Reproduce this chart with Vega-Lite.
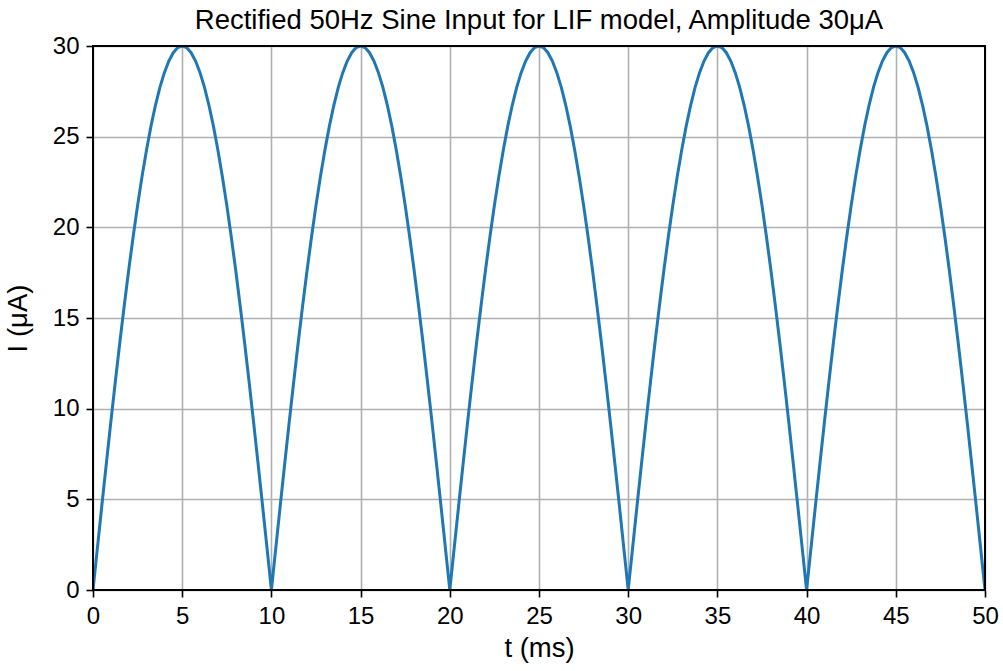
{
  "$schema": "https://vega.github.io/schema/vega-lite/v6.json",
  "width": 892,
  "height": 544,
  "autosize": "none",
  "padding": {"left": 93, "top": 46, "right": 18, "bottom": 81},
  "background": "white",
  "title": {"text": "Rectified 50Hz Sine Input for LIF model, Amplitude 30μA", "font": "Liberation Sans", "fontSize": 27.5, "fontWeight": "normal", "color": "black", "offset": 0},
  "config": {
    "view": {"stroke": null},
    "axis": {
      "labelFont": "Liberation Sans", "labelFontSize": 24, "labelColor": "black",
      "titleFont": "Liberation Sans", "titleFontSize": 27.5, "titleFontWeight": "normal", "titleColor": "black",
      "tickColor": "black", "tickSize": 7, "tickWidth": 1.6, "domain": false,
      "gridColor": "#b0b0b0", "gridWidth": 1.6, "gridOpacity": 1
    }
  },
  "data": {"values": [
    {"t":0,"I":0},{"t":0.25,"I":2.35},{"t":0.5,"I":4.69},{"t":0.75,"I":7},{"t":1,"I":9.27},{"t":1.25,"I":11.48},{"t":1.5,"I":13.62},{"t":1.75,"I":15.67},{"t":2,"I":17.63},{"t":2.25,"I":19.48},{"t":2.5,"I":21.21},{"t":2.75,"I":22.81},{"t":3,"I":24.27},{"t":3.25,"I":25.58},{"t":3.5,"I":26.73},{"t":3.75,"I":27.72},{"t":4,"I":28.53},{"t":4.25,"I":29.17},{"t":4.5,"I":29.63},{"t":4.75,"I":29.91},{"t":5,"I":30},{"t":5.25,"I":29.91},{"t":5.5,"I":29.63},{"t":5.75,"I":29.17},{"t":6,"I":28.53},{"t":6.25,"I":27.72},{"t":6.5,"I":26.73},{"t":6.75,"I":25.58},{"t":7,"I":24.27},{"t":7.25,"I":22.81},{"t":7.5,"I":21.21},{"t":7.75,"I":19.48},{"t":8,"I":17.63},{"t":8.25,"I":15.67},{"t":8.5,"I":13.62},{"t":8.75,"I":11.48},{"t":9,"I":9.27},{"t":9.25,"I":7},{"t":9.5,"I":4.69},{"t":9.75,"I":2.35},
    {"t":10,"I":0},{"t":10.25,"I":2.35},{"t":10.5,"I":4.69},{"t":10.75,"I":7},{"t":11,"I":9.27},{"t":11.25,"I":11.48},{"t":11.5,"I":13.62},{"t":11.75,"I":15.67},{"t":12,"I":17.63},{"t":12.25,"I":19.48},{"t":12.5,"I":21.21},{"t":12.75,"I":22.81},{"t":13,"I":24.27},{"t":13.25,"I":25.58},{"t":13.5,"I":26.73},{"t":13.75,"I":27.72},{"t":14,"I":28.53},{"t":14.25,"I":29.17},{"t":14.5,"I":29.63},{"t":14.75,"I":29.91},{"t":15,"I":30},{"t":15.25,"I":29.91},{"t":15.5,"I":29.63},{"t":15.75,"I":29.17},{"t":16,"I":28.53},{"t":16.25,"I":27.72},{"t":16.5,"I":26.73},{"t":16.75,"I":25.58},{"t":17,"I":24.27},{"t":17.25,"I":22.81},{"t":17.5,"I":21.21},{"t":17.75,"I":19.48},{"t":18,"I":17.63},{"t":18.25,"I":15.67},{"t":18.5,"I":13.62},{"t":18.75,"I":11.48},{"t":19,"I":9.27},{"t":19.25,"I":7},{"t":19.5,"I":4.69},{"t":19.75,"I":2.35},
    {"t":20,"I":0},{"t":20.25,"I":2.35},{"t":20.5,"I":4.69},{"t":20.75,"I":7},{"t":21,"I":9.27},{"t":21.25,"I":11.48},{"t":21.5,"I":13.62},{"t":21.75,"I":15.67},{"t":22,"I":17.63},{"t":22.25,"I":19.48},{"t":22.5,"I":21.21},{"t":22.75,"I":22.81},{"t":23,"I":24.27},{"t":23.25,"I":25.58},{"t":23.5,"I":26.73},{"t":23.75,"I":27.72},{"t":24,"I":28.53},{"t":24.25,"I":29.17},{"t":24.5,"I":29.63},{"t":24.75,"I":29.91},{"t":25,"I":30},{"t":25.25,"I":29.91},{"t":25.5,"I":29.63},{"t":25.75,"I":29.17},{"t":26,"I":28.53},{"t":26.25,"I":27.72},{"t":26.5,"I":26.73},{"t":26.75,"I":25.58},{"t":27,"I":24.27},{"t":27.25,"I":22.81},{"t":27.5,"I":21.21},{"t":27.75,"I":19.48},{"t":28,"I":17.63},{"t":28.25,"I":15.67},{"t":28.5,"I":13.62},{"t":28.75,"I":11.48},{"t":29,"I":9.27},{"t":29.25,"I":7},{"t":29.5,"I":4.69},{"t":29.75,"I":2.35},
    {"t":30,"I":0},{"t":30.25,"I":2.35},{"t":30.5,"I":4.69},{"t":30.75,"I":7},{"t":31,"I":9.27},{"t":31.25,"I":11.48},{"t":31.5,"I":13.62},{"t":31.75,"I":15.67},{"t":32,"I":17.63},{"t":32.25,"I":19.48},{"t":32.5,"I":21.21},{"t":32.75,"I":22.81},{"t":33,"I":24.27},{"t":33.25,"I":25.58},{"t":33.5,"I":26.73},{"t":33.75,"I":27.72},{"t":34,"I":28.53},{"t":34.25,"I":29.17},{"t":34.5,"I":29.63},{"t":34.75,"I":29.91},{"t":35,"I":30},{"t":35.25,"I":29.91},{"t":35.5,"I":29.63},{"t":35.75,"I":29.17},{"t":36,"I":28.53},{"t":36.25,"I":27.72},{"t":36.5,"I":26.73},{"t":36.75,"I":25.58},{"t":37,"I":24.27},{"t":37.25,"I":22.81},{"t":37.5,"I":21.21},{"t":37.75,"I":19.48},{"t":38,"I":17.63},{"t":38.25,"I":15.67},{"t":38.5,"I":13.62},{"t":38.75,"I":11.48},{"t":39,"I":9.27},{"t":39.25,"I":7},{"t":39.5,"I":4.69},{"t":39.75,"I":2.35},
    {"t":40,"I":0},{"t":40.25,"I":2.35},{"t":40.5,"I":4.69},{"t":40.75,"I":7},{"t":41,"I":9.27},{"t":41.25,"I":11.48},{"t":41.5,"I":13.62},{"t":41.75,"I":15.67},{"t":42,"I":17.63},{"t":42.25,"I":19.48},{"t":42.5,"I":21.21},{"t":42.75,"I":22.81},{"t":43,"I":24.27},{"t":43.25,"I":25.58},{"t":43.5,"I":26.73},{"t":43.75,"I":27.72},{"t":44,"I":28.53},{"t":44.25,"I":29.17},{"t":44.5,"I":29.63},{"t":44.75,"I":29.91},{"t":45,"I":30},{"t":45.25,"I":29.91},{"t":45.5,"I":29.63},{"t":45.75,"I":29.17},{"t":46,"I":28.53},{"t":46.25,"I":27.72},{"t":46.5,"I":26.73},{"t":46.75,"I":25.58},{"t":47,"I":24.27},{"t":47.25,"I":22.81},{"t":47.5,"I":21.21},{"t":47.75,"I":19.48},{"t":48,"I":17.63},{"t":48.25,"I":15.67},{"t":48.5,"I":13.62},{"t":48.75,"I":11.48},{"t":49,"I":9.27},{"t":49.25,"I":7},{"t":49.5,"I":4.69},{"t":49.75,"I":2.35},{"t":50,"I":0}
  ]},
  "layer": [
    {
      "mark": {"type": "line", "color": "#1f77b4", "strokeWidth": 3, "clip": true},
      "encoding": {
        "x": {"field": "t", "type": "quantitative", "scale": {"domain": [0, 50], "nice": false, "zero": false},
          "axis": {"title": "t (ms)", "values": [0,5,10,15,20,25,30,35,40,45,50], "format": "d", "labelPadding": 7, "titlePadding": 6, "labelFlush": false}},
        "y": {"field": "I", "type": "quantitative", "scale": {"domain": [0, 30], "nice": false},
          "axis": {"title": "I (μA)", "values": [0,5,10,15,20,25,30], "format": "d", "labelPadding": 7, "titlePadding": 20, "labelFlush": false}}
      }
    },
    {
      "mark": {"type": "rect", "fill": null, "filled": false, "stroke": "black", "strokeWidth": 1.6},
      "encoding": {
        "x": {"datum": 0},
        "x2": {"datum": 50},
        "y": {"datum": 0},
        "y2": {"datum": 30}
      }
    }
  ]
}
